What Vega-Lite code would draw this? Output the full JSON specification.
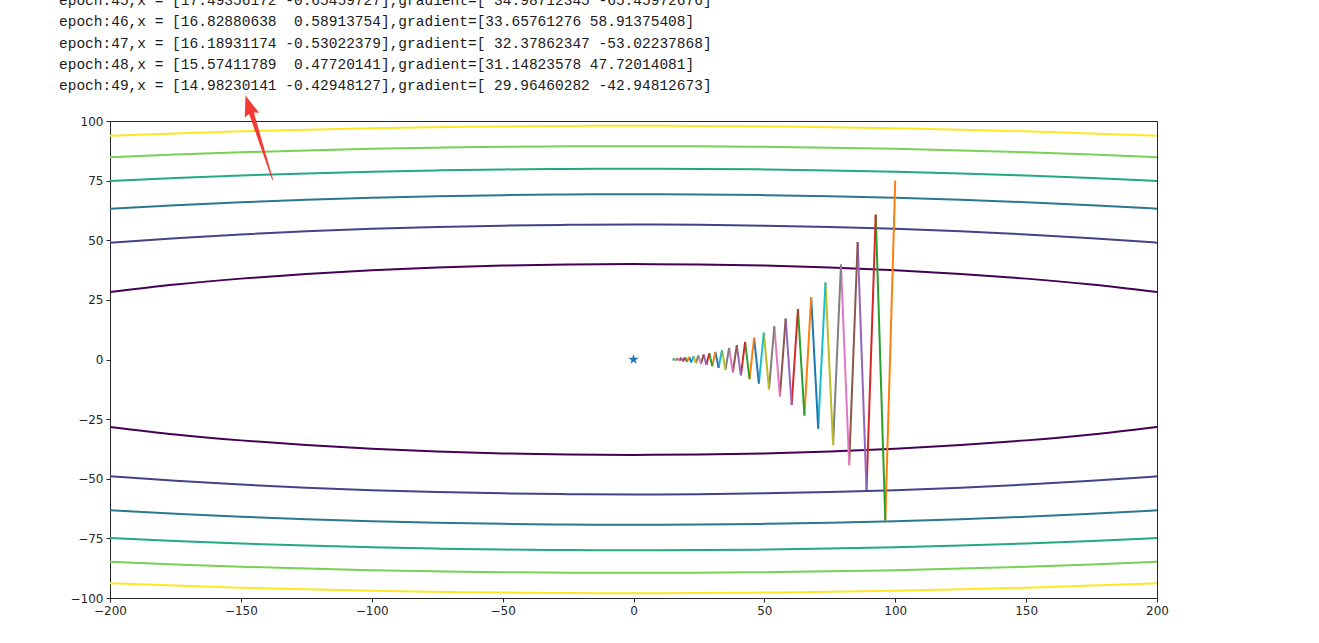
{
  "$schema": "https://vega.github.io/schema/vega-lite/v6.json",
  "width": 1047,
  "height": 477,
  "autosize": {"type": "none"},
  "padding": {"left": 110, "top": 121, "right": 162, "bottom": 45},
  "background": "white",
  "config": {
    "view": {"stroke": "#262626", "strokeWidth": 1},
    "axis": {
      "domain": false,
      "grid": false,
      "ticks": true,
      "tickColor": "#262626",
      "tickSize": 4,
      "labelFont": "DejaVu Sans",
      "labelFontSize": 12,
      "labelColor": "#262626",
      "labelPadding": 3,
      "labelFlush": false,
      "labelOverlap": false,
      "labelBound": false
    }
  },
  "title": {
    "text": [
      "epoch:45,x = [17.49356172 -0.65459727],gradient=[ 34.98712345 -65.45972676]",
      "epoch:46,x = [16.82880638 \u00a00.58913754],gradient=[33.65761276 58.91375408]",
      "epoch:47,x = [16.18931174 -0.53022379],gradient=[ 32.37862347 -53.02237868]",
      "epoch:48,x = [15.57411789 \u00a00.47720141],gradient=[31.14823578 47.72014081]",
      "epoch:49,x = [14.98230141 -0.42948127],gradient=[ 29.96460282 -42.94812673]"
    ],
    "anchor": "start",
    "frame": "group",
    "font": "Liberation Mono",
    "fontSize": 14.5,
    "fontWeight": "normal",
    "color": "#1a1a1a",
    "lineHeight": 21.2,
    "baseline": "bottom",
    "dx": -51,
    "offset": -12
  },
  "datasets": {
    "contours": [
      {"level": 1600, "x": -200, "up": 28.28, "down": -28.28},
      {"level": 1600, "x": -175, "up": 31.43, "down": -31.43},
      {"level": 1600, "x": -150, "up": 33.91, "down": -33.91},
      {"level": 1600, "x": -125, "up": 35.88, "down": -35.88},
      {"level": 1600, "x": -100, "up": 37.42, "down": -37.42},
      {"level": 1600, "x": -75, "up": 38.57, "down": -38.57},
      {"level": 1600, "x": -50, "up": 39.37, "down": -39.37},
      {"level": 1600, "x": -25, "up": 39.84, "down": -39.84},
      {"level": 1600, "x": 0, "up": 40.0, "down": -40.0},
      {"level": 1600, "x": 25, "up": 39.84, "down": -39.84},
      {"level": 1600, "x": 50, "up": 39.37, "down": -39.37},
      {"level": 1600, "x": 75, "up": 38.57, "down": -38.57},
      {"level": 1600, "x": 100, "up": 37.42, "down": -37.42},
      {"level": 1600, "x": 125, "up": 35.88, "down": -35.88},
      {"level": 1600, "x": 150, "up": 33.91, "down": -33.91},
      {"level": 1600, "x": 175, "up": 31.43, "down": -31.43},
      {"level": 1600, "x": 200, "up": 28.28, "down": -28.28},
      {"level": 3200, "x": -200, "up": 48.99, "down": -48.99},
      {"level": 3200, "x": -175, "up": 50.87, "down": -50.87},
      {"level": 3200, "x": -150, "up": 52.44, "down": -52.44},
      {"level": 3200, "x": -125, "up": 53.74, "down": -53.74},
      {"level": 3200, "x": -100, "up": 54.77, "down": -54.77},
      {"level": 3200, "x": -75, "up": 55.57, "down": -55.57},
      {"level": 3200, "x": -50, "up": 56.13, "down": -56.13},
      {"level": 3200, "x": -25, "up": 56.46, "down": -56.46},
      {"level": 3200, "x": 0, "up": 56.57, "down": -56.57},
      {"level": 3200, "x": 25, "up": 56.46, "down": -56.46},
      {"level": 3200, "x": 50, "up": 56.13, "down": -56.13},
      {"level": 3200, "x": 75, "up": 55.57, "down": -55.57},
      {"level": 3200, "x": 100, "up": 54.77, "down": -54.77},
      {"level": 3200, "x": 125, "up": 53.74, "down": -53.74},
      {"level": 3200, "x": 150, "up": 52.44, "down": -52.44},
      {"level": 3200, "x": 175, "up": 50.87, "down": -50.87},
      {"level": 3200, "x": 200, "up": 48.99, "down": -48.99},
      {"level": 4800, "x": -200, "up": 63.25, "down": -63.25},
      {"level": 4800, "x": -175, "up": 64.71, "down": -64.71},
      {"level": 4800, "x": -150, "up": 65.95, "down": -65.95},
      {"level": 4800, "x": -125, "up": 66.99, "down": -66.99},
      {"level": 4800, "x": -100, "up": 67.82, "down": -67.82},
      {"level": 4800, "x": -75, "up": 68.47, "down": -68.47},
      {"level": 4800, "x": -50, "up": 68.92, "down": -68.92},
      {"level": 4800, "x": -25, "up": 69.19, "down": -69.19},
      {"level": 4800, "x": 0, "up": 69.28, "down": -69.28},
      {"level": 4800, "x": 25, "up": 69.19, "down": -69.19},
      {"level": 4800, "x": 50, "up": 68.92, "down": -68.92},
      {"level": 4800, "x": 75, "up": 68.47, "down": -68.47},
      {"level": 4800, "x": 100, "up": 67.82, "down": -67.82},
      {"level": 4800, "x": 125, "up": 66.99, "down": -66.99},
      {"level": 4800, "x": 150, "up": 65.95, "down": -65.95},
      {"level": 4800, "x": 175, "up": 64.71, "down": -64.71},
      {"level": 4800, "x": 200, "up": 63.25, "down": -63.25},
      {"level": 6400, "x": -200, "up": 74.83, "down": -74.83},
      {"level": 6400, "x": -175, "up": 76.08, "down": -76.08},
      {"level": 6400, "x": -150, "up": 77.14, "down": -77.14},
      {"level": 6400, "x": -125, "up": 78.02, "down": -78.02},
      {"level": 6400, "x": -100, "up": 78.74, "down": -78.74},
      {"level": 6400, "x": -75, "up": 79.29, "down": -79.29},
      {"level": 6400, "x": -50, "up": 79.69, "down": -79.69},
      {"level": 6400, "x": -25, "up": 79.92, "down": -79.92},
      {"level": 6400, "x": 0, "up": 80.0, "down": -80.0},
      {"level": 6400, "x": 25, "up": 79.92, "down": -79.92},
      {"level": 6400, "x": 50, "up": 79.69, "down": -79.69},
      {"level": 6400, "x": 75, "up": 79.29, "down": -79.29},
      {"level": 6400, "x": 100, "up": 78.74, "down": -78.74},
      {"level": 6400, "x": 125, "up": 78.02, "down": -78.02},
      {"level": 6400, "x": 150, "up": 77.14, "down": -77.14},
      {"level": 6400, "x": 175, "up": 76.08, "down": -76.08},
      {"level": 6400, "x": 200, "up": 74.83, "down": -74.83},
      {"level": 8000, "x": -200, "up": 84.85, "down": -84.85},
      {"level": 8000, "x": -175, "up": 85.95, "down": -85.95},
      {"level": 8000, "x": -150, "up": 86.89, "down": -86.89},
      {"level": 8000, "x": -125, "up": 87.68, "down": -87.68},
      {"level": 8000, "x": -100, "up": 88.32, "down": -88.32},
      {"level": 8000, "x": -75, "up": 88.81, "down": -88.81},
      {"level": 8000, "x": -50, "up": 89.16, "down": -89.16},
      {"level": 8000, "x": -25, "up": 89.37, "down": -89.37},
      {"level": 8000, "x": 0, "up": 89.44, "down": -89.44},
      {"level": 8000, "x": 25, "up": 89.37, "down": -89.37},
      {"level": 8000, "x": 50, "up": 89.16, "down": -89.16},
      {"level": 8000, "x": 75, "up": 88.81, "down": -88.81},
      {"level": 8000, "x": 100, "up": 88.32, "down": -88.32},
      {"level": 8000, "x": 125, "up": 87.68, "down": -87.68},
      {"level": 8000, "x": 150, "up": 86.89, "down": -86.89},
      {"level": 8000, "x": 175, "up": 85.95, "down": -85.95},
      {"level": 8000, "x": 200, "up": 84.85, "down": -84.85},
      {"level": 9600, "x": -200, "up": 93.81, "down": -93.81},
      {"level": 9600, "x": -175, "up": 94.80, "down": -94.80},
      {"level": 9600, "x": -150, "up": 95.66, "down": -95.66},
      {"level": 9600, "x": -125, "up": 96.37, "down": -96.37},
      {"level": 9600, "x": -100, "up": 96.95, "down": -96.95},
      {"level": 9600, "x": -75, "up": 97.40, "down": -97.40},
      {"level": 9600, "x": -50, "up": 97.72, "down": -97.72},
      {"level": 9600, "x": -25, "up": 97.92, "down": -97.92},
      {"level": 9600, "x": 0, "up": 97.98, "down": -97.98},
      {"level": 9600, "x": 25, "up": 97.92, "down": -97.92},
      {"level": 9600, "x": 50, "up": 97.72, "down": -97.72},
      {"level": 9600, "x": 75, "up": 97.40, "down": -97.40},
      {"level": 9600, "x": 100, "up": 96.95, "down": -96.95},
      {"level": 9600, "x": 125, "up": 96.37, "down": -96.37},
      {"level": 9600, "x": 150, "up": 95.66, "down": -95.66},
      {"level": 9600, "x": 175, "up": 94.80, "down": -94.80},
      {"level": 9600, "x": 200, "up": 93.81, "down": -93.81}
    ],
    "path": [
      {"step": 0, "x": 100.00, "y": 75.00, "x2": 96.20, "y2": -67.50},
      {"step": 1, "x": 96.20, "y": -67.50, "x2": 92.54, "y2": 60.75},
      {"step": 2, "x": 92.54, "y": 60.75, "x2": 89.03, "y2": -54.68},
      {"step": 3, "x": 89.03, "y": -54.68, "x2": 85.64, "y2": 49.21},
      {"step": 4, "x": 85.64, "y": 49.21, "x2": 82.39, "y2": -44.29},
      {"step": 5, "x": 82.39, "y": -44.29, "x2": 79.26, "y2": 39.86},
      {"step": 6, "x": 79.26, "y": 39.86, "x2": 76.25, "y2": -35.87},
      {"step": 7, "x": 76.25, "y": -35.87, "x2": 73.35, "y2": 32.28},
      {"step": 8, "x": 73.35, "y": 32.28, "x2": 70.56, "y2": -29.06},
      {"step": 9, "x": 70.56, "y": -29.06, "x2": 67.88, "y2": 26.15},
      {"step": 10, "x": 67.88, "y": 26.15, "x2": 65.30, "y2": -23.54},
      {"step": 11, "x": 65.30, "y": -23.54, "x2": 62.82, "y2": 21.18},
      {"step": 12, "x": 62.82, "y": 21.18, "x2": 60.43, "y2": -19.06},
      {"step": 13, "x": 60.43, "y": -19.06, "x2": 58.14, "y2": 17.16},
      {"step": 14, "x": 58.14, "y": 17.16, "x2": 55.93, "y2": -15.44},
      {"step": 15, "x": 55.93, "y": -15.44, "x2": 53.80, "y2": 13.90},
      {"step": 16, "x": 53.80, "y": 13.90, "x2": 51.76, "y2": -12.51},
      {"step": 17, "x": 51.76, "y": -12.51, "x2": 49.79, "y2": 11.26},
      {"step": 18, "x": 49.79, "y": 11.26, "x2": 47.90, "y2": -10.13},
      {"step": 19, "x": 47.90, "y": -10.13, "x2": 46.08, "y2": 9.12},
      {"step": 20, "x": 46.08, "y": 9.12, "x2": 44.33, "y2": -8.21},
      {"step": 21, "x": 44.33, "y": -8.21, "x2": 42.64, "y2": 7.39},
      {"step": 22, "x": 42.64, "y": 7.39, "x2": 41.02, "y2": -6.65},
      {"step": 23, "x": 41.02, "y": -6.65, "x2": 39.46, "y2": 5.98},
      {"step": 24, "x": 39.46, "y": 5.98, "x2": 37.96, "y2": -5.38},
      {"step": 25, "x": 37.96, "y": -5.38, "x2": 36.52, "y2": 4.85},
      {"step": 26, "x": 36.52, "y": 4.85, "x2": 35.13, "y2": -4.36},
      {"step": 27, "x": 35.13, "y": -4.36, "x2": 33.80, "y2": 3.93},
      {"step": 28, "x": 33.80, "y": 3.93, "x2": 32.51, "y2": -3.53},
      {"step": 29, "x": 32.51, "y": -3.53, "x2": 31.28, "y2": 3.18},
      {"step": 30, "x": 31.28, "y": 3.18, "x2": 30.09, "y2": -2.86},
      {"step": 31, "x": 30.09, "y": -2.86, "x2": 28.95, "y2": 2.58},
      {"step": 32, "x": 28.95, "y": 2.58, "x2": 27.85, "y2": -2.32},
      {"step": 33, "x": 27.85, "y": -2.32, "x2": 26.79, "y2": 2.09},
      {"step": 34, "x": 26.79, "y": 2.09, "x2": 25.77, "y2": -1.88},
      {"step": 35, "x": 25.77, "y": -1.88, "x2": 24.79, "y2": 1.69},
      {"step": 36, "x": 24.79, "y": 1.69, "x2": 23.85, "y2": -1.52},
      {"step": 37, "x": 23.85, "y": -1.52, "x2": 22.94, "y2": 1.37},
      {"step": 38, "x": 22.94, "y": 1.37, "x2": 22.07, "y2": -1.23},
      {"step": 39, "x": 22.07, "y": -1.23, "x2": 21.23, "y2": 1.11},
      {"step": 40, "x": 21.23, "y": 1.11, "x2": 20.43, "y2": -1.00},
      {"step": 41, "x": 20.43, "y": -1.00, "x2": 19.65, "y2": 0.90},
      {"step": 42, "x": 19.65, "y": 0.90, "x2": 18.90, "y2": -0.81},
      {"step": 43, "x": 18.90, "y": -0.81, "x2": 18.18, "y2": 0.73},
      {"step": 44, "x": 18.18, "y": 0.73, "x2": 17.49, "y2": -0.65},
      {"step": 45, "x": 17.49, "y": -0.65, "x2": 16.83, "y2": 0.59},
      {"step": 46, "x": 16.83, "y": 0.59, "x2": 16.19, "y2": -0.53},
      {"step": 47, "x": 16.19, "y": -0.53, "x2": 15.57, "y2": 0.48},
      {"step": 48, "x": 15.57, "y": 0.48, "x2": 14.98, "y2": -0.43}
    ],
    "star": [{"x": 0, "y": 0}],
    "arrowShaft": [
      {"o": 0, "x": -137.9, "y": 75.5, "w": 1},
      {"o": 1, "x": -145.9, "y": 103.1, "w": 5}
    ],
    "arrowHead": [{"x": -146.6, "y": 105.2}]
  },
  "resolve": {"scale": {"color": "independent", "size": "independent"}},
  "layer": [
    {
      "data": {"name": "contours"},
      "transform": [{"fold": ["up", "down"], "as": ["branch", "yv"]}],
      "mark": {"type": "line", "interpolate": "monotone", "strokeWidth": 2, "clip": true},
      "encoding": {
        "x": {
          "field": "x", "type": "quantitative",
          "scale": {"domain": [-200, 200], "nice": false, "zero": false},
          "axis": {"values": [-200, -150, -100, -50, 0, 50, 100, 150, 200]},
          "title": null
        },
        "y": {
          "field": "yv", "type": "quantitative",
          "scale": {"domain": [-100, 100], "nice": false, "zero": false},
          "axis": {"values": [-100, -75, -50, -25, 0, 25, 50, 75, 100]},
          "title": null
        },
        "color": {
          "field": "level", "type": "ordinal",
          "scale": {"domain": [1600, 3200, 4800, 6400, 8000, 9600], "range": ["#440154", "#414487", "#2a788e", "#22a884", "#7ad151", "#fde725"]},
          "legend": null
        },
        "detail": {"field": "branch", "type": "nominal"}
      }
    },
    {
      "data": {"name": "path"},
      "mark": {"type": "rule", "strokeWidth": 2, "clip": true},
      "encoding": {
        "x": {"field": "x", "type": "quantitative"},
        "y": {"field": "y", "type": "quantitative"},
        "x2": {"field": "x2"},
        "y2": {"field": "y2"},
        "color": {
          "field": "step", "type": "ordinal",
          "scale": {"range": ["#ff7f0e", "#2ca02c", "#d62728", "#9467bd", "#8c564b", "#e377c2", "#7f7f7f", "#bcbd22", "#17becf", "#1f77b4"]},
          "legend": null
        }
      }
    },
    {
      "data": {"name": "star"},
      "mark": {"type": "point", "filled": true, "color": "#1f77b4", "opacity": 1, "size": 120, "shape": "M0,-1L0.225,-0.309L0.951,-0.309L0.363,0.118L0.588,0.809L0,0.382L-0.588,0.809L-0.363,0.118L-0.951,-0.309L-0.225,-0.309Z"},
      "encoding": {
        "x": {"field": "x", "type": "quantitative"},
        "y": {"field": "y", "type": "quantitative"}
      }
    },
    {
      "data": {"name": "arrowShaft"},
      "mark": {"type": "trail", "color": "#f23b35", "clip": false},
      "encoding": {
        "x": {"field": "x", "type": "quantitative"},
        "y": {"field": "y", "type": "quantitative"},
        "size": {"field": "w", "type": "quantitative", "scale": null, "legend": null},
        "order": {"field": "o", "type": "quantitative"}
      }
    },
    {
      "data": {"name": "arrowHead"},
      "mark": {"type": "point", "filled": true, "color": "#f23b35", "opacity": 1, "size": 750, "angle": 342, "clip": false, "shape": "M0,-1L0.55,0.5L0,0.3L-0.55,0.5Z"},
      "encoding": {
        "x": {"field": "x", "type": "quantitative"},
        "y": {"field": "y", "type": "quantitative"}
      }
    }
  ]
}
